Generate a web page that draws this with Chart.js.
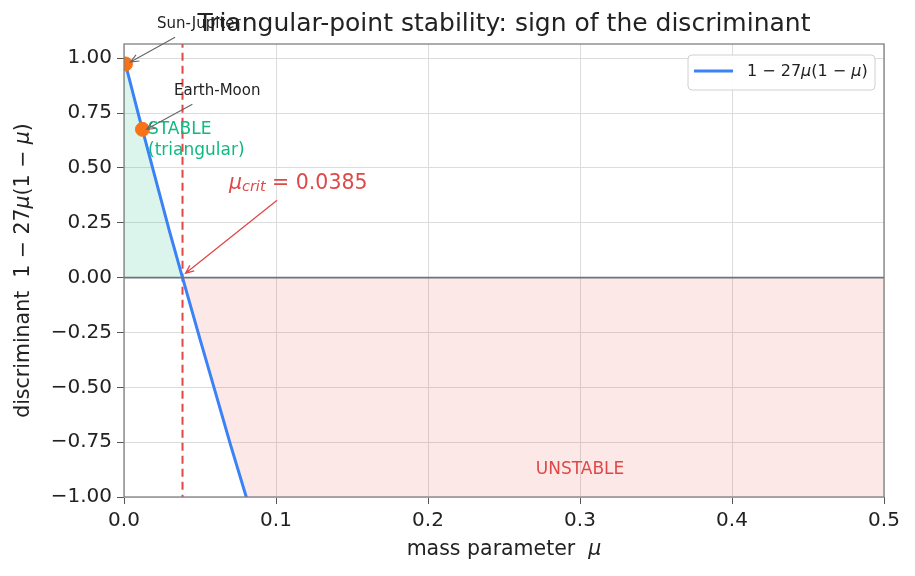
<!DOCTYPE html>
<html>
<head>
<meta charset="utf-8">
<script src="https://cdn.jsdelivr.net/npm/chart.js@4.4.1/dist/chart.umd.min.js"></script>
<style>
  html, body { margin: 0; padding: 0; background: #fff; }
  #wrap { width: 915px; height: 576px; }
</style>
</head>
<body>
<div id="wrap"><canvas id="discChart" width="915" height="576"></canvas></div>
<script>
// values
const muVals   = [0, 0.01, 0.02, 0.03, 0.0385, 0.05, 0.06, 0.07, 0.08, 0.1, 0.2, 0.3, 0.4, 0.5];
const discVals = [1.0, 0.73, 0.47, 0.21, 0.0, -0.28, -0.52, -0.76, -0.99, -1.43, -3.32, -4.67, -5.48, -5.75];
const muCrit = 0.0385;

const systemNames = ['Sun-Jupiter', 'Earth-Moon'];
const systemMu    = [0.000954, 0.01215];
const systemDisc  = [0.974, 0.676];

const xTicks = [0, 0.1, 0.2, 0.3, 0.4, 0.5];
const yTicks = [-1, -0.75, -0.5, -0.25, 0, 0.25, 0.5, 0.75, 1];

const FONT = '"DejaVu Sans", sans-serif';
const BLUE = '#3b82f6';
const RED = '#e04848';
const GREEN = '#10b981';
const ORANGE = '#f97316';

const curvePts = muVals.map((m, i) => ({ x: m, y: discVals[i] }));
const stablePts = curvePts.filter(p => p.x <= muCrit);
const unstablePts = curvePts.filter(p => p.x >= muCrit);
const systemPts = systemMu.map((m, i) => ({ x: m, y: systemDisc[i] }));

function fmtMinus(s) { return s.replace('-', '\u2212'); }

function arrow(ctx, x1, y1, x2, y2, color, width) {
    ctx.save();
    ctx.strokeStyle = color;
    ctx.lineWidth = width;
    ctx.beginPath();
    ctx.moveTo(x1, y1);
    ctx.lineTo(x2, y2);
    const a = Math.atan2(y2 - y1, x2 - x1);
    const h = 9;
    ctx.moveTo(x2 - h * Math.cos(a - 0.4), y2 - h * Math.sin(a - 0.4));
    ctx.lineTo(x2, y2);
    ctx.lineTo(x2 - h * Math.cos(a + 0.4), y2 - h * Math.sin(a + 0.4));
    ctx.stroke();
    ctx.restore();
}

function runsWidth(ctx, runs) {
    let w = 0;
    ctx.save();
    runs.forEach(r => { ctx.font = r[1]; w += ctx.measureText(r[0]).width; });
    ctx.restore();
    return w;
}

// draws text pieces [text, font, dy] one after another
function drawRuns(ctx, runs, x, y, color) {
    ctx.save();
    ctx.fillStyle = color;
    ctx.textBaseline = 'middle';
    ctx.textAlign = 'left';
    runs.forEach(r => {
        ctx.font = r[1];
        ctx.fillText(r[0], x, y + (r[2] || 0));
        x += ctx.measureText(r[0]).width;
    });
    ctx.restore();
}

const decorPlugin = {
    id: 'decor',
    afterDatasetsDraw(chart) {
        const { ctx, chartArea: ca, scales: { x, y } } = chart;

        // zero line
        ctx.save();
        ctx.strokeStyle = '#6b7280';
        ctx.lineWidth = 1.6;
        ctx.beginPath();
        ctx.moveTo(ca.left, y.getPixelForValue(0));
        ctx.lineTo(ca.right, y.getPixelForValue(0));
        ctx.stroke();

        // frame
        ctx.strokeStyle = '#808080';
        ctx.lineWidth = 1.3;
        ctx.strokeRect(ca.left, ca.top, ca.right - ca.left, ca.bottom - ca.top);
        ctx.restore();

        // region labels
        ctx.save();
        ctx.font = '17px ' + FONT;
        ctx.fillStyle = GREEN;
        ctx.textBaseline = 'middle';
        ctx.fillText('STABLE', x.getPixelForValue(0.0158), y.getPixelForValue(0.677));
        ctx.fillText('(triangular)', x.getPixelForValue(0.0158), y.getPixelForValue(0.58));
        ctx.fillStyle = RED;
        ctx.textAlign = 'center';
        ctx.fillText('UNSTABLE', x.getPixelForValue(0.3), y.getPixelForValue(-0.877));
        ctx.restore();

        // system annotations
        ctx.save();
        ctx.font = '15px ' + FONT;
        ctx.fillStyle = '#222';
        ctx.textBaseline = 'middle';
        ctx.fillText(systemNames[0], x.getPixelForValue(0.0217), y.getPixelForValue(1.155));
        ctx.fillText(systemNames[1], x.getPixelForValue(0.0329), y.getPixelForValue(0.85));
        ctx.restore();
        arrow(ctx, x.getPixelForValue(0.0336), y.getPixelForValue(1.096),
              x.getPixelForValue(systemMu[0]) + 5, y.getPixelForValue(systemDisc[0]) - 2, '#666', 1.1);
        arrow(ctx, x.getPixelForValue(0.045), y.getPixelForValue(0.79),
              x.getPixelForValue(systemMu[1]) + 4, y.getPixelForValue(systemDisc[1]), '#666', 1.1);

        // critical value annotation
        drawRuns(ctx, [
            ['\u03bc', 'italic 20.5px ' + FONT, 0],
            ['crit', 'italic 14.5px ' + FONT, 4],
            [' = 0.0385', '20.5px ' + FONT, 0]
        ], x.getPixelForValue(0.069), y.getPixelForValue(0.43), RED);
        arrow(ctx, x.getPixelForValue(0.1007), y.getPixelForValue(0.353),
              x.getPixelForValue(0.0405), y.getPixelForValue(0.02), RED, 1.3);

        // legend
        const lx = 688, ly = 55, lw = 187, lh = 35;
        ctx.save();
        ctx.fillStyle = 'rgba(255,255,255,0.9)';
        ctx.strokeStyle = '#d0d0d0';
        ctx.lineWidth = 1;
        ctx.beginPath();
        ctx.roundRect(lx, ly, lw, lh, 4);
        ctx.fill();
        ctx.stroke();
        ctx.strokeStyle = BLUE;
        ctx.lineWidth = 3;
        ctx.beginPath();
        ctx.moveTo(lx + 6, ly + 16);
        ctx.lineTo(lx + 45, ly + 16);
        ctx.stroke();
        ctx.restore();
        drawRuns(ctx, [
            ['1 \u2212 27', '16px ' + FONT],
            ['\u03bc', 'italic 16px ' + FONT],
            ['(1 \u2212 ', '16px ' + FONT],
            ['\u03bc', 'italic 16px ' + FONT],
            [')', '16px ' + FONT]
        ], lx + 59, ly + 17, '#222');

        // axis titles (italic mu)
        const F = '20.5px ' + FONT, FI = 'italic 20.5px ' + FONT;
        const xRuns = [['mass parameter  ', F], ['\u03bc', FI]];
        drawRuns(ctx, xRuns, (ca.left + ca.right) / 2 - runsWidth(ctx, xRuns) / 2, 550, '#222');
        const yRuns = [['discriminant  1 \u2212 27', F], ['\u03bc', FI], ['(1 \u2212 ', F], ['\u03bc', FI], [')', F]];
        ctx.save();
        ctx.translate(24, (ca.top + ca.bottom) / 2);
        ctx.rotate(-Math.PI / 2);
        drawRuns(ctx, yRuns, -runsWidth(ctx, yRuns) / 2, 0, '#222');
        ctx.restore();

        // title
        ctx.save();
        ctx.font = '25px ' + FONT;
        ctx.fillStyle = '#222';
        ctx.textAlign = 'center';
        ctx.textBaseline = 'middle';
        ctx.fillText('Triangular-point stability: sign of the discriminant', (ca.left + ca.right) / 2, 24);
        ctx.restore();
    }
};

const ctx = document.getElementById('discChart').getContext('2d');
new Chart(ctx, {
    type: 'line',
    data: {
        datasets: [
            {
                label: 'systems',
                data: systemPts,
                showLine: false,
                pointRadius: 7,
                pointBackgroundColor: ORANGE,
                pointBorderColor: ORANGE,
                order: 0
            },
            {
                label: '1 \u2212 27\u03bc(1 \u2212 \u03bc)',
                data: curvePts,
                borderColor: BLUE,
                borderWidth: 3,
                pointRadius: 0,
                fill: false,
                tension: 0,
                order: 1
            },
            {
                label: 'critical',
                data: [{ x: muCrit, y: -1.5 }, { x: muCrit, y: 1.5 }],
                borderColor: RED,
                borderWidth: 2,
                borderDash: [8, 5],
                pointRadius: 0,
                fill: false,
                order: 2
            },
            {
                label: 'stable',
                data: stablePts,
                borderWidth: 0,
                pointRadius: 0,
                backgroundColor: 'rgba(16,185,129,0.15)',
                fill: 'origin',
                order: 3
            },
            {
                label: 'unstable',
                data: unstablePts,
                borderWidth: 0,
                pointRadius: 0,
                backgroundColor: 'rgba(239,68,68,0.12)',
                fill: 'origin',
                order: 4
            }
        ]
    },
    options: {
        responsive: false,
        animation: false,
        layout: { padding: { top: 44, right: 31, left: 0, bottom: 0 } },
        plugins: {
            legend: { display: false },
            tooltip: { enabled: false }
        },
        scales: {
            x: {
                type: 'linear',
                min: 0,
                max: 0.5,
                afterBuildTicks: s => { s.ticks = xTicks.map(v => ({ value: v })); },
                afterFit: s => { s.height = 79; },
                ticks: {
                    callback: v => v.toFixed(1),
                    font: { family: FONT, size: 20 },
                    color: '#222',
                    padding: 5,
                    maxRotation: 0
                },
                grid: { color: '#dcdcdc', tickColor: '#555', tickLength: 7 },
                border: { display: false },
                title: { display: false }
            },
            y: {
                type: 'linear',
                min: -1,
                max: 1.065,
                afterBuildTicks: s => { s.ticks = yTicks.map(v => ({ value: v })); },
                afterFit: s => { s.width = 124; },
                ticks: {
                    callback: v => fmtMinus(v.toFixed(2)),
                    font: { family: FONT, size: 20 },
                    color: '#222',
                    padding: 5
                },
                grid: { color: '#dcdcdc', tickColor: '#555', tickLength: 7 },
                border: { display: false },
                title: { display: false }
            }
        }
    },
    plugins: [decorPlugin]
});
</script>
</body>
</html>
